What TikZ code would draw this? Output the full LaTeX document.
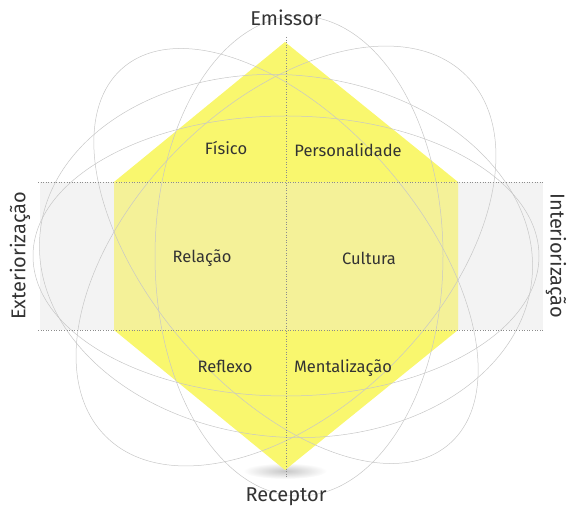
\documentclass[tikz,border=0pt]{standalone}
\usepackage{fontspec}
\setmainfont{Fira Sans}
\usepackage{tikz}
\usetikzlibrary{positioning}
\usepackage{xcolor}
\definecolor{amarelo}{RGB}{249,247,110}
\definecolor{amareloclaro}{RGB}{244,241,152}
\definecolor{cinzafaixa}{RGB}{243,243,243}

\begin{document}
\begin{tikzpicture}[x=1pt, y=1pt,
  rotulo/.style={font=\fontsize{16.5}{18}\selectfont, text=black!80},
  polo/.style={font=\fontsize{20}{22}\selectfont, text=black!80},
  elipse/.style={draw=black!22, line width=0.5pt},
  eixo/.style={draw=black!45, dotted, line width=0.6pt}]
\useasboundingbox (0,0) rectangle (568,514);
% Faixa cinzenta
\fill[cinzafaixa] (40,184) rectangle (543,332);
% Sombra sob o vertice
\shade[inner color=black!22, outer color=white] (285,43) ellipse [x radius=42pt, y radius=8pt];
% Prisma hexagonal
\coordinate (topo) at (285,472);
\coordinate (supdir) at (458,332);
\coordinate (infdir) at (458,184);
\coordinate (base) at (285,44);
\coordinate (infesq) at (114,184);
\coordinate (supesq) at (114,332);
\fill[amarelo] (topo) -- (supdir) -- (infdir) -- (base) -- (infesq) -- (supesq) -- cycle;
\fill[amareloclaro] (infesq) rectangle (supdir);
% Elipses decorativas
\coordinate (centro) at (286,258);
\coordinate (centrov) at (299,258);
\foreach \ang/\ra/\rb in {0/253/140, -5/247/181, 45/255/152, 131/249/134}{
  \draw[elipse, rotate around={\ang:(centro)}] (centro) ellipse [x radius=\ra pt, y radius=\rb pt];
}
\draw[elipse] (centrov) ellipse [x radius=144pt, y radius=240pt];
% Eixos pontilhados
\draw[eixo] (38,332) -- (543,332);
\draw[eixo] (38,184) -- (543,184);
\draw[eixo] (286,477) -- (286,37);
% Polos
\node[polo] (emissor) at (286,496) {Emissor};
\node[polo] (receptor) at (286,17) {Receptor};
\node[polo, rotate=90] (exterior) at (20,258) {Exteriorização};
\node[polo, rotate=-90] (interior) at (556,258) {Interiorização};
% Facetas
\foreach \nome/\pos/\lab in {fisico/{226,366}/Físico, personalidade/{348,364}/Personalidade,
  relacao/{202,256}/Relação, cultura/{369,256}/Cultura,
  reflexo/{225,148}/Reflexo, mentalizacao/{343,146}/Mentalização}{
  \node[rotulo] (\nome) at (\pos) {\lab};
}
\end{tikzpicture}
\end{document}
